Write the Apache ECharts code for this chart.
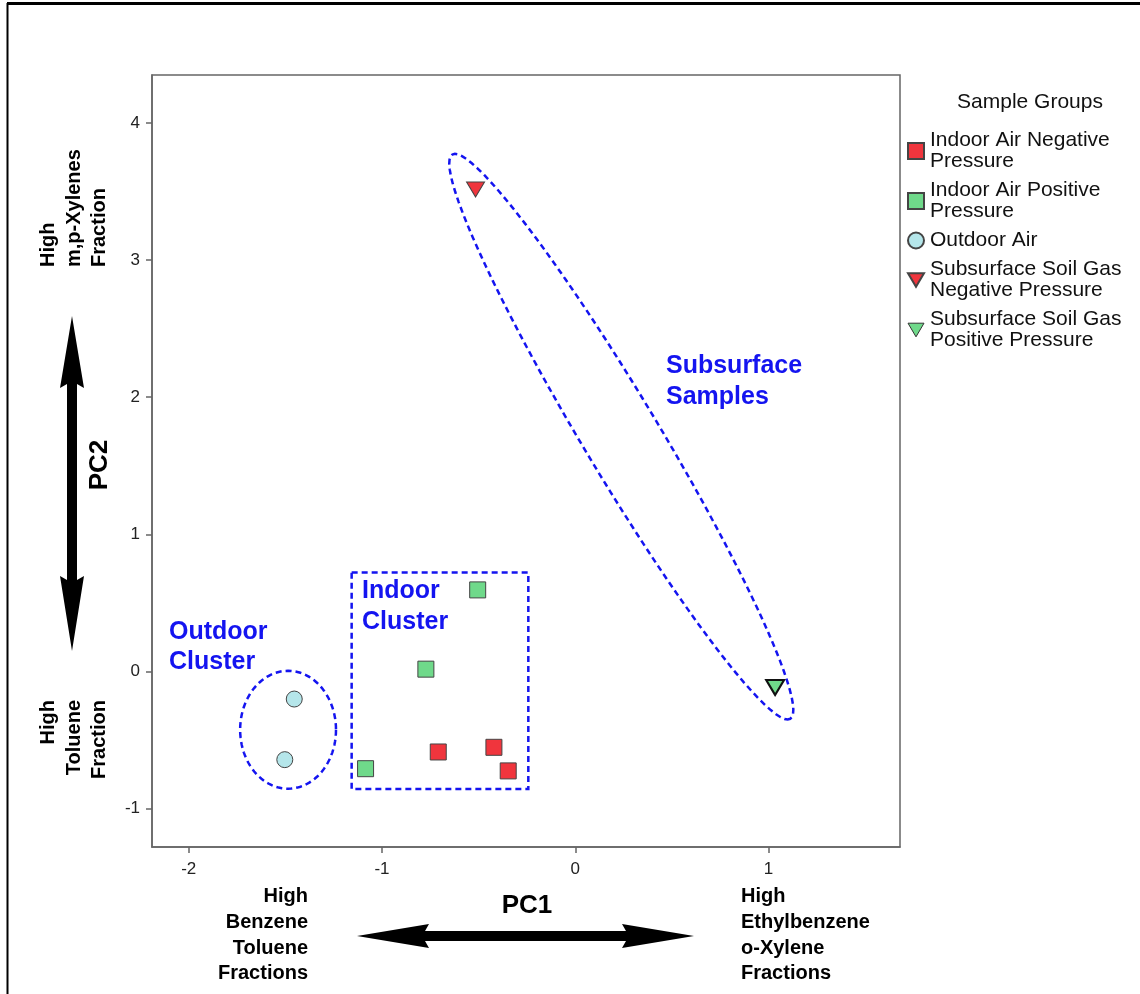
<!DOCTYPE html>
<html>
<head>
<meta charset="utf-8">
<script src="https://cdn.jsdelivr.net/npm/echarts@6/dist/echarts.min.js"></script>
<style>
html, body { margin: 0; background: #fff; }
#chart { width: 1140px; height: 994px; }
</style>
</head>
<body>
<div id="chart"></div>
<script>
// PCA scores: [PC1, PC2]
const groupNames = [
  'Indoor Air Negative\nPressure',
  'Indoor Air Positive\nPressure',
  'Outdoor Air',
  'Subsurface Soil Gas\nNegative Pressure',
  'Subsurface Soil Gas\nPositive Pressure'
]
const indoorNeg = [[-0.709, -0.587], [-0.421, -0.553], [-0.347, -0.725]]
const indoorPos = [[-0.505, 0.595], [-0.773, 0.017], [-1.085, -0.709]]
const outdoor = [[-1.454, -0.201], [-1.503, -0.643]]
const subNeg = [[-0.516, 3.515]]
const subPos = [[1.034, -0.117]]

const xTicks = [-2, -1, 0, 1]
const yTicks = [-1, 0, 1, 2, 3, 4]

// cluster outlines, in data units
const outdoorEllipse = { cx: -1.486, cy: -0.425, rx: 0.248, ry: 0.43 }
const indoorBox = { x1: -1.157, y1: 0.721, x2: -0.243, y2: -0.857 }
const subsurfaceEllipse = { p1: [-0.636, 3.77], p2: [1.112, -0.345], halfWidthPx: 38 }

const BLUE = '#1414f0'
const FONT = '"Liberation Sans", Arial, sans-serif'
const RED = '#f0353d'
const GREEN = '#6fd98a'
const CYAN = '#b5e6ea'
const DOWN_TRI = 'path://M0,0 L20,0 L10,17 Z'

const chart = echarts.init(document.getElementById('chart'))

const axisCommon = {
  type: 'value',
  splitLine: { show: false },
  axisLine: { show: true, onZero: false, lineStyle: { color: '#666', width: 1.5 } },
  axisTick: { show: true, length: 6, lineStyle: { color: '#666', width: 1.5 } },
  axisLabel: { fontSize: 17, color: '#222', fontFamily: FONT, margin: 12 }
}

const option = {
  backgroundColor: '#fff',
  animation: false,
  grid: { left: 152, right: 240, top: 75, bottom: 147, show: true, borderColor: '#666', borderWidth: 1.5 },
  xAxis: {
    ...axisCommon, min: -2.19, max: 1.68,
    axisTick: { ...axisCommon.axisTick, customValues: xTicks },
    axisLabel: { ...axisCommon.axisLabel, customValues: xTicks, margin: 14 }
  },
  yAxis: {
    ...axisCommon, min: -1.28, max: 4.35,
    axisTick: { ...axisCommon.axisTick, customValues: yTicks },
    axisLabel: { ...axisCommon.axisLabel, customValues: yTicks }
  },
  legend: {
    orient: 'vertical', left: 902, top: 125,
    itemWidth: 16, itemHeight: 16, itemGap: 8,
    data: [
      { name: groupNames[0], icon: 'rect' },
      { name: groupNames[1], icon: 'rect' },
      { name: groupNames[2], icon: 'circle' },
      { name: groupNames[3], icon: DOWN_TRI },
      { name: groupNames[4], icon: DOWN_TRI, itemStyle: { borderWidth: 1, borderColor: '#333' } }
    ],
    textStyle: { fontSize: 21, lineHeight: 21, color: '#111', fontFamily: FONT, padding: [0, 0, 0, 1] }
  },
  series: [
    { name: groupNames[0], type: 'scatter', data: indoorNeg, symbol: 'rect', symbolSize: 16,
      itemStyle: { color: RED, borderColor: '#444', borderWidth: 1, opacity: 1 } },
    { name: groupNames[1], type: 'scatter', data: indoorPos, symbol: 'rect', symbolSize: 16,
      itemStyle: { color: GREEN, borderColor: '#444', borderWidth: 1, opacity: 1 } },
    { name: groupNames[2], type: 'scatter', data: outdoor, symbol: 'circle', symbolSize: 16,
      itemStyle: { color: CYAN, borderColor: '#444', borderWidth: 1, opacity: 1 } },
    { name: groupNames[3], type: 'scatter', data: subNeg, symbol: 'triangle', symbolRotate: 180, symbolSize: [18, 15],
      itemStyle: { color: RED, borderColor: '#444', borderWidth: 1, opacity: 1 } },
    { name: groupNames[4], type: 'scatter', data: subPos, symbol: 'triangle', symbolRotate: 180, symbolSize: [18, 15],
      itemStyle: { color: GREEN, borderColor: '#111', borderWidth: 2, opacity: 1 } }
  ]
}

chart.setOption(option)

const px = p => chart.convertToPixel({ gridIndex: 0 }, p)

const ellipsePoints = (cx, cy, a, b, ang) => {
  const pts = []
  for (let i = 0; i < 96; i++) {
    const t = (i / 96) * Math.PI * 2
    const ex = a * Math.cos(t), ey = b * Math.sin(t)
    pts.push([cx + ex * Math.cos(ang) - ey * Math.sin(ang), cy + ex * Math.sin(ang) + ey * Math.cos(ang)])
  }
  return pts
}

const dashed = { fill: 'none', stroke: BLUE, lineWidth: 2.5, lineDash: [6, 4] }

const buildGraphics = () => {
  const oc = px([outdoorEllipse.cx, outdoorEllipse.cy])
  const oa = px([outdoorEllipse.cx + outdoorEllipse.rx, outdoorEllipse.cy])[0] - oc[0]
  const ob = oc[1] - px([outdoorEllipse.cx, outdoorEllipse.cy + outdoorEllipse.ry])[1]

  const s1 = px(subsurfaceEllipse.p1), s2 = px(subsurfaceEllipse.p2)
  const sa = Math.hypot(s2[0] - s1[0], s2[1] - s1[1]) / 2
  const sAng = Math.atan2(s2[1] - s1[1], s2[0] - s1[0])

  const b1 = px([indoorBox.x1, indoorBox.y1]), b2 = px([indoorBox.x2, indoorBox.y2])

  const label = (x, y, text, align, size, extra) => ({
    type: 'text', x, y, silent: true, ...extra,
    style: { text, fill: '#000', font: `bold ${size}px ${FONT}`, align, verticalAlign: 'top', lineHeight: 25.7 }
  })
  const blueText = (x, y, text, lh) => ({
    type: 'text', x, y, style: { text, fill: BLUE, font: `bold 25px ${FONT}`, lineHeight: lh, verticalAlign: 'top' }
  })

  return [
    // page frame lines
    { type: 'line', shape: { x1: 7, y1: 3.5, x2: 1140, y2: 3.5 }, style: { stroke: '#000', lineWidth: 3 } },
    { type: 'line', shape: { x1: 7.5, y1: 3, x2: 7.5, y2: 994 }, style: { stroke: '#000', lineWidth: 2 } },
    // legend title
    { type: 'text', x: 1030, y: 102, style: { text: 'Sample Groups', fill: '#111', font: `21px ${FONT}`, align: 'center', verticalAlign: 'middle' } },
    // cluster outlines
    { type: 'polygon', shape: { points: ellipsePoints(oc[0], oc[1], oa, ob, 0) }, style: dashed },
    { type: 'polygon', shape: { points: ellipsePoints((s1[0] + s2[0]) / 2, (s1[1] + s2[1]) / 2, sa, subsurfaceEllipse.halfWidthPx, sAng) }, style: dashed },
    { type: 'rect', shape: { x: b1[0], y: b1[1], width: b2[0] - b1[0], height: b2[1] - b1[1] }, style: dashed },
    // cluster labels
    blueText(666, 350.5, 'Subsurface\nSamples', 31),
    blueText(362, 575.5, 'Indoor\nCluster', 31),
    blueText(169, 616.5, 'Outdoor\nCluster', 30.5),
    // PC1 annotation
    { type: 'text', x: 527, y: 906, style: { text: 'PC1', fill: '#000', font: `bold 26px ${FONT}`, align: 'center', verticalAlign: 'middle' } },
    label(308, 884, 'High\nBenzene\nToluene\nFractions', 'right', 20),
    label(741, 884, 'High\nEthylbenzene\no-Xylene\nFractions', 'left', 20),
    { type: 'polygon', shape: { points: [[357, 936], [429, 924], [425, 931], [626, 931], [622, 924], [694, 936], [622, 948], [626, 941], [425, 941], [429, 948]] }, style: { fill: '#000' } },
    // PC2 annotation
    { type: 'text', x: 100, y: 465, rotation: Math.PI / 2, style: { text: 'PC2', fill: '#000', font: `bold 26px ${FONT}`, align: 'center', verticalAlign: 'middle' } },
    label(35.5, 267, 'High\nm,p-Xylenes\nFraction', 'left', 20, { rotation: Math.PI / 2 }),
    label(35.5, 700, 'High\nToluene\nFraction', 'right', 20, { rotation: Math.PI / 2 }),
    { type: 'polygon', shape: { points: [[72, 316], [84, 388], [77, 384], [77, 580], [84, 576], [72, 651], [60, 576], [67, 580], [67, 384], [60, 388]] }, style: { fill: '#000' } }
  ]
}

chart.setOption({ graphic: buildGraphics() })
</script>
</body>
</html>
